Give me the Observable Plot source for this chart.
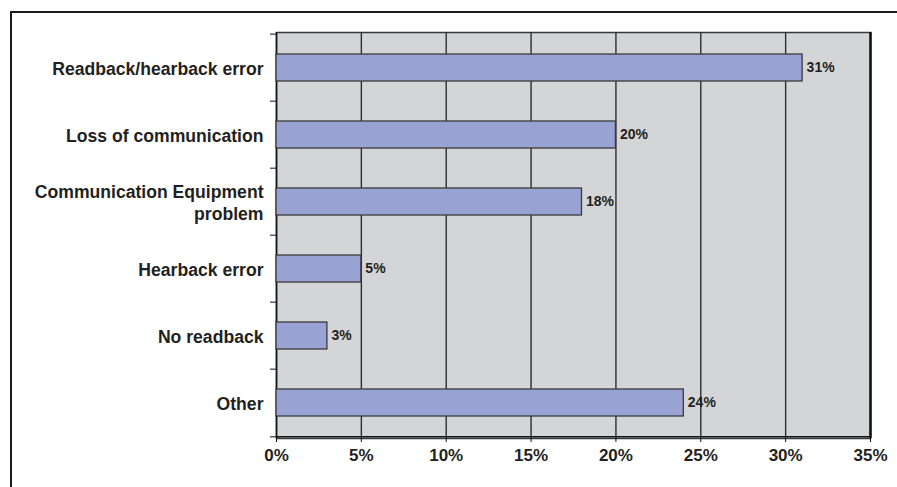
<!DOCTYPE html>
<html>
<head>
<meta charset="utf-8">
<script src="https://cdn.jsdelivr.net/npm/d3@7"></script>
<script src="https://cdn.jsdelivr.net/npm/@observablehq/plot@0.6"></script>
<style>
  html, body { margin: 0; padding: 0; background: #fff; }
  #wrap { position: relative; width: 897px; height: 487px; overflow: hidden; }
  #wrap svg { position: absolute; left: 0; top: 0; }
  #border { position: absolute; left: 10px; top: 11px; width: 1000px; height: 1000px;
            border-top: 2px solid #1a1a1a; border-left: 2px solid #1a1a1a; pointer-events: none; }
</style>
</head>
<body>
<div id="wrap"><div id="border"></div></div>
<script>
const categories = ["Readback/hearback error", "Loss of communication", "Communication Equipment\nproblem", "Hearback error", "No readback", "Other"];
const values = [31, 20, 18, 5, 3, 24];
const xTicks = [0, 5, 10, 15, 20, 25, 30, 35];
const gridTicks = [5, 10, 15, 20, 25, 30];

const data = categories.map((c, i) => ({category: c, value: values[i]}));

const W = 897, H = 487, mT = 32, mB = 49, mL = 276, mR = 27;
const step = (H - mT - mB) / categories.length;
const font = "'Liberation Sans', Arial, sans-serif";
const ink = "#231f20";

const chart = Plot.plot({
  width: W,
  height: H,
  marginTop: mT,
  marginBottom: mB,
  marginLeft: mL,
  marginRight: mR,
  style: {fontFamily: font, color: ink, background: "transparent"},
  x: {domain: [0, 35]},
  y: {domain: categories, paddingInner: 0.6, paddingOuter: 0.3},
  marks: [
    Plot.frame({fill: "#d4d5d7", stroke: "#3a3a3a", strokeWidth: 1.5}),
    Plot.ruleX(gridTicks, {stroke: "#2e2e2e", strokeWidth: 1.4}),
    Plot.ruleX([0], {stroke: "#111", strokeWidth: 1.5}),
    Plot.ruleX([35], {stroke: "#111", strokeWidth: 2.5}),
    Plot.barX(data, {y: "category", x: "value", fill: "#99a3d3", stroke: "#3a3a3a", strokeWidth: 1.3}),
    Plot.text(data, {y: "category", x: "value", text: d => d.value + "%", textAnchor: "start", dx: 4,
      fontSize: 14, fontWeight: "bold", fill: ink}),
    Plot.axisX({ticks: xTicks, tickFormat: d => d + "%", tickSize: 4, tickPadding: 6,
      fontSize: 17, fontWeight: "bold", stroke: "#111", fill: ink, label: null}),
    Plot.ruleY([categories[categories.length - 1]], {dy: step / 2, stroke: "#111", strokeWidth: 1.5}),
    Plot.axisY({tickSize: 0, tickPadding: 13, fontSize: 17.6, fontWeight: "bold", fill: ink,
      lineHeight: 1.25, label: null}),
    Plot.axisY({tickSize: 6, tickFormat: () => "", dy: -step / 2, stroke: "#111", label: null}),
    Plot.axisY({ticks: [categories[categories.length - 1]], tickSize: 6, tickFormat: () => "", dy: step / 2, stroke: "#111", label: null})
  ]
});
document.getElementById("wrap").prepend(chart);
</script>
</body>
</html>
